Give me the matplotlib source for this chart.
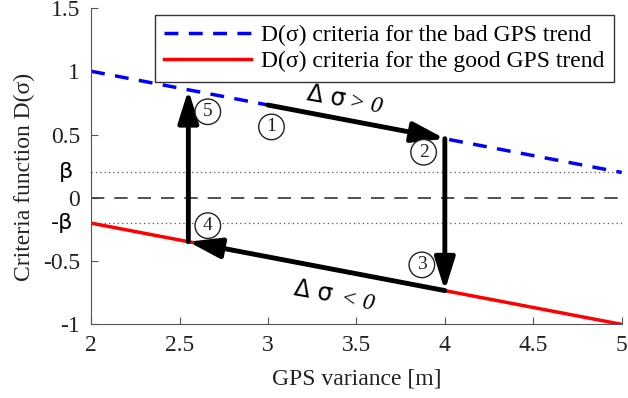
import numpy as np
import matplotlib.pyplot as plt

plt.rcParams['font.family'] = ['Liberation Serif', 'DejaVu Serif']

# GPS variance range and the two criteria lines
sigma = [2, 5]
d_bad = [1.0, 0.2]
d_good = [-0.2, -1.0]
beta = 0.2

# hysteresis loop corners (x, y)
loop = [(3.0, 0.733), (4.0, 0.467), (4.0, -0.733), (2.55, -0.347), (2.55, 0.853)]
loop_labels = ['1', '2', '3', '4', '5']
label_pos = [(3.02, 0.56), (3.88, 0.36), (3.87, -0.53), (2.66, -0.22), (2.66, 0.68)]

xticks = [2, 2.5, 3, 3.5, 4, 4.5, 5]
yticks = [-1, -0.5, 0, 0.5, 1, 1.5]

fig, ax = plt.subplots(figsize=(6.28, 3.98), dpi=100)
fig.subplots_adjust(left=0.145, right=0.99, top=0.98, bottom=0.185)

ax.plot(sigma, d_bad, '--', color='blue', lw=2.5, dashes=(4, 3),
        label='D(\u03c3) criteria for the bad GPS trend')
ax.plot(sigma, d_good, '-', color='red', lw=2.5,
        label='D(\u03c3) criteria for the good GPS trend')
ax.axhline(0, color='#333333', lw=1.2, ls=(0, (8, 6)))
ax.axhline(beta, color='#555555', lw=0.9, ls=(0, (1, 2.5)))
ax.axhline(-beta, color='#555555', lw=0.9, ls=(0, (1, 2.5)))

# arrows between the corners
for i in range(len(loop) - 1):
    ax.annotate('', xy=loop[i + 1], xytext=loop[i],
                arrowprops=dict(arrowstyle='-|>,head_length=0.7,head_width=0.22',
                                color='black', lw=3.5,
                                mutation_scale=28, shrinkA=0, shrinkB=0))

# circled step numbers
for lab, (x, y) in zip(loop_labels, label_pos):
    ax.text(x, y, lab, fontsize=14, ha='center', va='center', color='#222222',
            bbox=dict(boxstyle='circle,pad=0.22', fc='white', ec='#222222', lw=1.0))

# delta sigma annotations
ax.text(3.22, 0.83, '\u0394 \u03c3', fontsize=17, rotation=-10, ha='left',
        va='center', family=['DejaVu Sans'], rotation_mode='anchor')
ax.text(3.46, 0.76, '> 0', fontsize=17, rotation=-10, ha='left', va='center',
        style='italic', rotation_mode='anchor')
ax.text(3.15, -0.715, '\u0394 \u03c3', fontsize=17, rotation=-10, ha='left',
        va='center', family=['DejaVu Sans'], rotation_mode='anchor')
ax.text(3.41, -0.80, '< 0', fontsize=17, rotation=-10, ha='left', va='center',
        style='italic', rotation_mode='anchor')

ax.text(1.9, beta, '\u03b2', fontsize=16, ha='right', va='center',
        family=['DejaVu Sans'])
ax.text(1.9, -beta, '-\u03b2', fontsize=16, ha='right', va='center',
        family=['DejaVu Sans'])

ax.set_xlim(2, 5)
ax.set_ylim(-1, 1.5)
ax.set_xticks(xticks)
ax.set_yticks(yticks)
ax.set_xticklabels(['2', '2.5', '3', '3.5', '4', '4.5', '5'])
ax.set_yticklabels(['-1', '-0.5', '0', '0.5', '1', '1.5'])
ax.tick_params(labelsize=17, colors='#555555', labelcolor='#222222',
               direction='in', length=5, pad=8)
for s in ['top', 'right']:
    ax.spines[s].set_visible(False)
for s in ['left', 'bottom']:
    ax.spines[s].set_color('#555555')
ax.set_xlabel('GPS variance [m]', fontsize=17, color='#222222', labelpad=9)
ax.set_ylabel('Criteria function D(\u03c3)', fontsize=17, color='#222222')
ax.yaxis.set_label_coords(-0.105, 0.465)

leg = ax.legend(loc='upper right', bbox_to_anchor=(0.985, 0.978), fontsize=17,
                fancybox=False, edgecolor='#333333', framealpha=1,
                handlelength=3.7, borderpad=0.4, labelspacing=0.2,
                handletextpad=0.4, borderaxespad=0)
leg.get_frame().set_linewidth(1.0)

fig.savefig('out.png')
